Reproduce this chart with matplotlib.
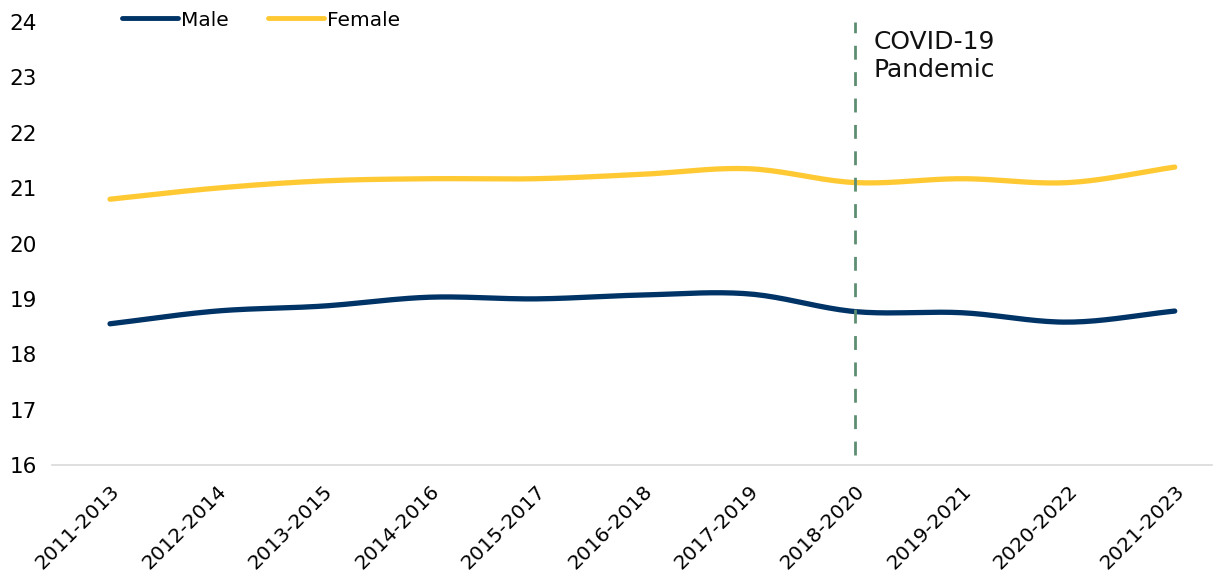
import numpy as np
import matplotlib
matplotlib.use("Agg")
import matplotlib.pyplot as plt
from matplotlib.lines import Line2D

periods = ["2011-2013", "2012-2014", "2013-2015", "2014-2016", "2015-2017",
           "2016-2018", "2017-2019", "2018-2020", "2019-2021", "2020-2022",
           "2021-2023"]
male = [18.55, 18.78, 18.87, 19.03, 19.00, 19.07, 19.09, 18.77, 18.75, 18.58, 18.78]
female = [20.80, 21.00, 21.13, 21.17, 21.17, 21.25, 21.35, 21.10, 21.17, 21.10, 21.38]
y_ticks = [16, 17, 18, 19, 20, 21, 22, 23, 24]
covid_period = "2018-2020"

MALE_COLOR = "#003366"
FEMALE_COLOR = "#FFC933"
COVID_COLOR = "#5E8E72"


def smooth(xs, ys, n=20):
    """Catmull-Rom spline through the points, like a smoothed line chart."""
    xs = np.asarray(xs, float)
    ys = np.asarray(ys, float)
    px = np.concatenate([[2 * xs[0] - xs[1]], xs, [2 * xs[-1] - xs[-2]]])
    py = np.concatenate([[2 * ys[0] - ys[1]], ys, [2 * ys[-1] - ys[-2]]])
    out_x, out_y = [], []
    t = np.linspace(0, 1, n, endpoint=False)
    for i in range(1, len(px) - 2):
        for p, out in ((px, out_x), (py, out_y)):
            p0, p1, p2, p3 = p[i - 1], p[i], p[i + 1], p[i + 2]
            seg = 0.5 * ((2 * p1) + (-p0 + p2) * t
                         + (2 * p0 - 5 * p1 + 4 * p2 - p3) * t ** 2
                         + (-p0 + 3 * p1 - 3 * p2 + p3) * t ** 3)
            out.extend(seg)
    out_x.append(xs[-1])
    out_y.append(ys[-1])
    return np.array(out_x), np.array(out_y)


plt.rcParams["font.family"] = ["DejaVu Sans"]

W, H = 1214, 576
fig = plt.figure(figsize=(W / 100, H / 100), dpi=100)
ax = fig.add_axes([52 / W, 1 - 465 / H, (1212 - 52) / W, (465 - 22) / H])

x = np.arange(len(periods))
for vals, col in ((male, MALE_COLOR), (female, FEMALE_COLOR)):
    sx, sy = smooth(x, vals)
    ax.plot(sx, sy, color=col, lw=3.8, solid_capstyle="round", zorder=3)

cx = periods.index(covid_period)
ax.plot([cx, cx], [16.18, 24], color=COVID_COLOR, lw=2, dashes=(5, 4.5), zorder=4)
ax.text(cx + 0.17, 23.51, "COVID-19", fontsize=18, va="baseline", ha="left",
        color="#111111")
ax.text(cx + 0.17, 23.01, "Pandemic", fontsize=18, va="baseline", ha="left",
        color="#111111")

ax.set_xlim(-0.545, 10.35)
ax.set_ylim(16, 24)
ax.set_yticks(y_ticks)
ax.set_yticklabels([str(v) for v in y_ticks], fontsize=15.5)
ax.set_xticks(x)
ax.set_xticklabels(periods, rotation=45, ha="right", rotation_mode="anchor", fontsize=14.5)
ax.tick_params(axis="both", length=0)
ax.tick_params(axis="y", pad=11)
ax.tick_params(axis="x", pad=12)

for s in ("top", "right", "left"):
    ax.spines[s].set_visible(False)
ax.spines["bottom"].set_color("#D9D9D9")
ax.spines["bottom"].set_linewidth(1.2)

handles = [Line2D([], [], color=MALE_COLOR, lw=3.5, solid_capstyle="round"),
           Line2D([], [], color=FEMALE_COLOR, lw=3.5, solid_capstyle="round")]
fig.legend(handles, ["Male", "Female"], loc="center left",
           bbox_to_anchor=(122 / W, 1 - 20 / H), ncol=2, frameon=False,
           fontsize=14.5, handlelength=2.8, handletextpad=0.12, columnspacing=1.95,
           borderaxespad=0, borderpad=0)

fig.savefig("out.png", dpi=100, facecolor="white")
